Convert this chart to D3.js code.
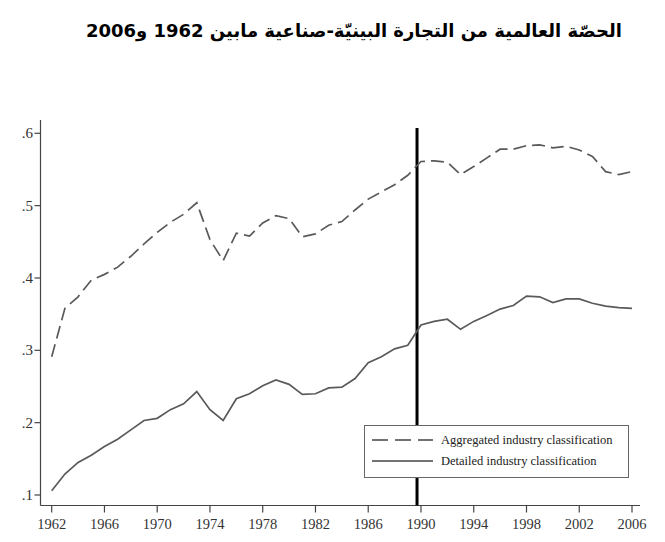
<!DOCTYPE html>
<html>
<head>
<meta charset="utf-8">
<script src="https://cdn.jsdelivr.net/npm/d3@7"></script>
<style>
  body { margin: 0; background: #fff; }
  svg { display: block; }
</style>
</head>
<body>
<svg id="chart"></svg>
<script>
const years = d3.range(1962, 2007);
const aggregated = [0.291, 0.358, 0.374, 0.397, 0.405, 0.415, 0.430, 0.447, 0.463, 0.477,
  0.488, 0.504, 0.453, 0.424, 0.462, 0.458, 0.476, 0.486, 0.482, 0.457,
  0.461, 0.473, 0.478, 0.494, 0.509, 0.519, 0.529, 0.542, 0.561, 0.562,
  0.560, 0.543, 0.554, 0.566, 0.578, 0.578, 0.583, 0.584, 0.580, 0.582,
  0.577, 0.568, 0.547, 0.543, 0.547];
const detailed = [0.106, 0.129, 0.145, 0.155, 0.167, 0.177, 0.190, 0.203, 0.206, 0.218,
  0.226, 0.243, 0.218, 0.203, 0.233, 0.240, 0.251, 0.259, 0.253, 0.239,
  0.240, 0.248, 0.249, 0.261, 0.283, 0.291, 0.302, 0.307, 0.335, 0.340,
  0.343, 0.329, 0.340, 0.348, 0.357, 0.362, 0.375, 0.374, 0.366, 0.371,
  0.371, 0.365, 0.361, 0.359, 0.358];
const xTicks = [1962, 1966, 1970, 1974, 1978, 1982, 1986, 1990, 1994, 1998, 2002, 2006];
const yTicks = [0.1, 0.2, 0.3, 0.4, 0.5, 0.6];
const breakYear = 1989.7;
const seriesNames = ["Aggregated industry classification", "Detailed industry classification"];
const title = "الحصّة العالمية من التجارة البينيّة-صناعية مابين 1962 و2006";

const width = 665, height = 542;
const svg = d3.select("#chart").attr("width", width).attr("height", height);

const x = d3.scaleLinear().domain([1962, 2006]).range([51.7, 632]);
const y = d3.scaleLinear().domain([0.1, 0.6]).range([495, 133.3]);
const axisX = 40.5, axisY = 505.5;
const lineColor = "#5a5a5a";

// title
const t = svg.append("text")
  .attr("x", 622).attr("y", 37)
  .attr("text-anchor", "start")
  .attr("direction", "rtl")
  .style("font-family", "'DejaVu Sans', sans-serif")
  .style("font-weight", "bold")
  .style("font-size", "20px")
  .attr("fill", "#000")
  .text(title);
const tw = t.node().getComputedTextLength();
t.style("font-size", (20 * 536 / tw).toFixed(2) + "px");

// axes
svg.append("line")
  .attr("x1", axisX).attr("x2", axisX).attr("y1", 120).attr("y2", axisY)
  .attr("stroke", "#444").attr("stroke-width", 1.2);
svg.append("line")
  .attr("x1", axisX).attr("x2", 640).attr("y1", axisY).attr("y2", axisY)
  .attr("stroke", "#444").attr("stroke-width", 1.2);

const yAxis = svg.append("g").selectAll("g").data(yTicks).join("g");
yAxis.append("line")
  .attr("x1", axisX - 6).attr("x2", axisX)
  .attr("y1", d => y(d)).attr("y2", d => y(d))
  .attr("stroke", "#444").attr("stroke-width", 1.2);
yAxis.append("text")
  .attr("x", 33).attr("y", d => y(d) + 5)
  .attr("text-anchor", "end")
  .style("font-family", "'Liberation Serif', serif")
  .style("font-size", "15px")
  .attr("fill", "#333")
  .text(d => d3.format(".1f")(d).replace(/^0/, ""));

const xAxis = svg.append("g").selectAll("g").data(xTicks).join("g");
xAxis.append("line")
  .attr("x1", d => x(d)).attr("x2", d => x(d))
  .attr("y1", axisY).attr("y2", axisY + 7)
  .attr("stroke", "#444").attr("stroke-width", 1.2);
xAxis.append("text")
  .attr("x", d => x(d)).attr("y", 529)
  .attr("text-anchor", "middle")
  .style("font-family", "'Liberation Serif', serif")
  .style("font-size", "14.5px")
  .attr("fill", "#333")
  .text(d => d);

// vertical break line
svg.append("line")
  .attr("x1", x(breakYear)).attr("x2", x(breakYear))
  .attr("y1", 128).attr("y2", axisY)
  .attr("stroke", "#000").attr("stroke-width", 3);

// series
const line = d3.line().x((d, i) => x(years[i])).y(d => y(d));
svg.append("path")
  .attr("d", line(aggregated))
  .attr("fill", "none")
  .attr("stroke", lineColor)
  .attr("stroke-width", 1.7)
  .attr("stroke-dasharray", "13,6");
svg.append("path")
  .attr("d", line(detailed))
  .attr("fill", "none")
  .attr("stroke", lineColor)
  .attr("stroke-width", 1.7);

// legend
const legend = svg.append("g");
legend.append("rect")
  .attr("x", 364.5).attr("y", 425.5).attr("width", 264).attr("height", 52)
  .attr("fill", "#fff").attr("stroke", "#666").attr("stroke-width", 1);
seriesNames.forEach((name, i) => {
  const ly = 440 + i * 21;
  legend.append("line")
    .attr("x1", 372).attr("x2", 433).attr("y1", ly).attr("y2", ly)
    .attr("stroke", "#444").attr("stroke-width", 1.6)
    .attr("stroke-dasharray", i === 0 ? "16,7" : null);
  legend.append("text")
    .attr("x", 441).attr("y", ly + 4)
    .style("font-family", "'Liberation Serif', serif")
    .style("font-size", "12.5px")
    .attr("fill", "#222")
    .text(name);
});
</script>
</body>
</html>
